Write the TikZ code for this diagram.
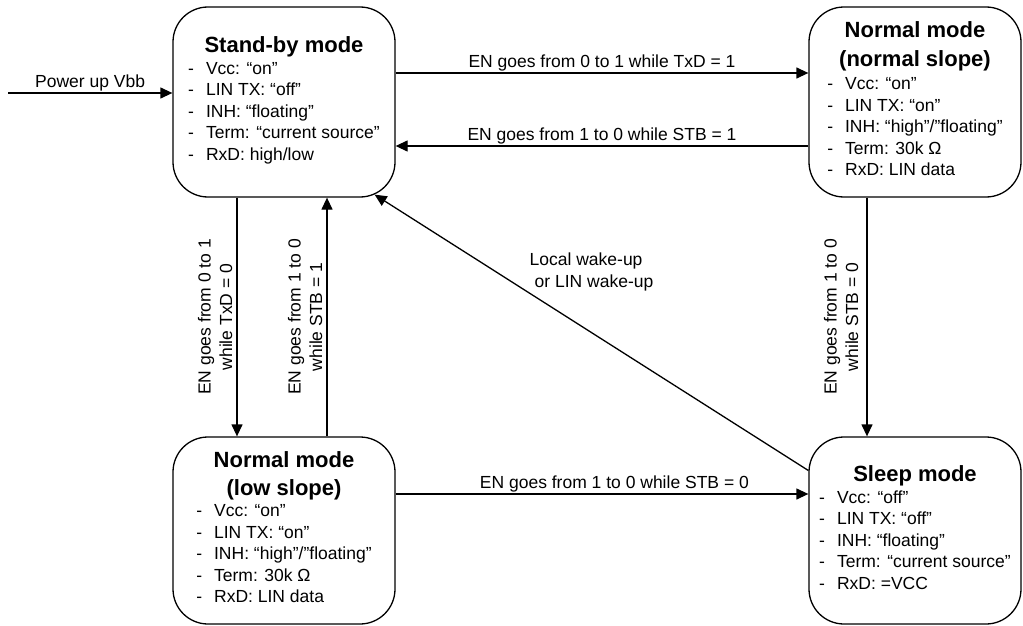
\documentclass[tikz,border=0pt]{standalone}
\usepackage{fontspec}
\setmainfont{Liberation Sans}
\usetikzlibrary{arrows.meta,calc}
\def\TitleFont{\fontsize{22}{27}\selectfont\bfseries}
\def\BodyFont{\fontsize{17.5}{21.5}\selectfont}
\newcommand\ModeTitle[1]{\multicolumn{2}{@{}c@{}}{\TitleFont #1}}
\def\ModeList#1{\begin{tabular}{@{}l@{\hspace{12pt}}l@{}}#1\end{tabular}}
\tikzset{mode/.style={draw, line width=1.3pt, rounded corners=35pt,
           font=\BodyFont, inner sep=0pt},
         trans/.style={draw, line width=1.3pt,
           -{Triangle[length=12pt,width=11pt]}},
         cond/.style={font=\BodyFont, inner sep=1pt, align=center}}

\begin{document}
\begin{tikzpicture}[x=1pt, y=-1pt]
\useasboundingbox (0,0) rectangle (1023,626);
% the four modes
\node[mode, minimum width=222pt, minimum height=190pt] (standby) at (284,102)
  {\ModeList{\ModeTitle{Stand-by mode}\\
   - & Vcc: “on”\\
   - & LIN TX: “off”\\
   - & INH: “floating”\\
   - & Term: “current source”\\
   - & RxD: high/low}};
\node[mode, minimum width=212pt, minimum height=190pt] (normal) at (915,102)
  {\ModeList{\ModeTitle{Normal mode}\\[6pt]
   \ModeTitle{(normal slope)}\\[2pt]
   - & Vcc: “on”\\
   - & LIN TX: “on”\\
   - & INH: “high”/”floating”\\
   - & Term: 30k Ω\\
   - & RxD: LIN data}};
\node[mode, minimum width=222pt, minimum height=187pt] (lowslope) at (284,530.5)
  {\ModeList{\ModeTitle{Normal mode}\\[5pt]
   \ModeTitle{(low slope)}\\
   - & Vcc: “on”\\
   - & LIN TX: “on”\\
   - & INH: “high”/”floating”\\
   - & Term: 30k Ω\\
   - & RxD: LIN data}};
\node[mode, minimum width=212pt, minimum height=187pt] (sleep) at (915,530.5)
  {\ModeList{\ModeTitle{Sleep mode}\\
   - & Vcc: “off”\\
   - & LIN TX: “off”\\
   - & INH: “floating”\\
   - & Term: “current source”\\
   - & RxD: =VCC}};
% transitions
\coordinate (vbb) at (8,93);
\draw[trans] (vbb) -- (vbb -| standby.west)
  node[cond, midway, above] {Power up Vbb};
\draw[trans] ([yshift=29pt]standby.east) -- ([yshift=29pt]normal.west)
  node[cond, midway, above] {EN goes from 0 to 1 while TxD = 1};
\draw[trans] ([yshift=-44pt]normal.west) -- ([yshift=-44pt]standby.east)
  node[cond, midway, above] {EN goes from 1 to 0 while STB = 1};
\draw[trans] ([xshift=-47pt]standby.south) -- ([xshift=-47pt]lowslope.north)
  node[cond, midway, rotate=90, anchor=south, inner sep=4pt] {EN goes from 0 to 1\\while TxD = 0};
\draw[trans] ([xshift=43pt]lowslope.north) -- ([xshift=43pt]standby.south)
  node[cond, midway, rotate=90, anchor=south, inner sep=4pt] {EN goes from 1 to 0\\while STB = 1};
\draw[trans] ([xshift=-48pt]normal.south) -- ([xshift=-48pt]sleep.north)
  node[cond, midway, rotate=90, anchor=south, inner sep=8pt] {EN goes from 1 to 0\\while STB = 0};
\draw[trans] ([yshift=36.5pt]lowslope.east) -- ([yshift=36.5pt]sleep.west)
  node[cond, pos=0.53, above] {EN goes from 1 to 0 while STB = 0};
\draw[trans] ([yshift=60pt]sleep.west) -- ([xshift=-21pt,yshift=3pt]standby.south east)
  node[cond, midway, above=40pt, align=left] {Local wake-up\\\hspace*{5pt}or LIN wake-up};
\end{tikzpicture}
\end{document}
